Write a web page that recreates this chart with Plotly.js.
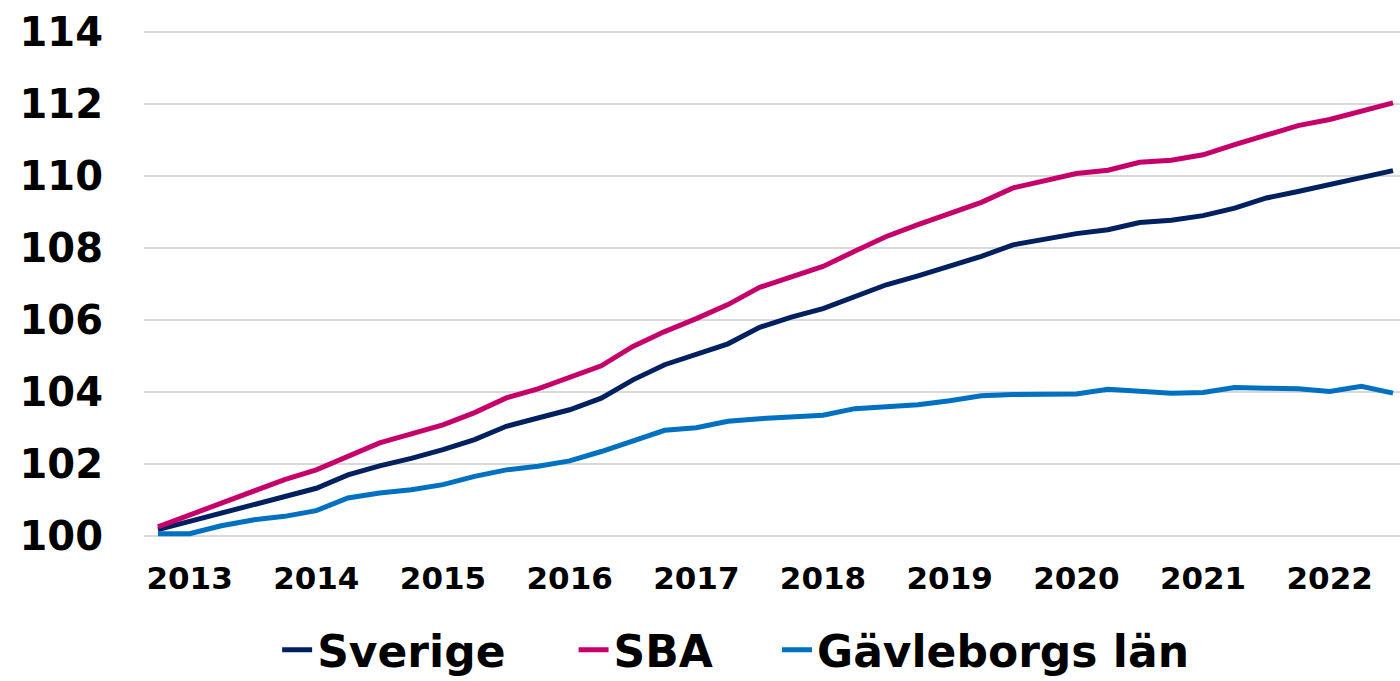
<!DOCTYPE html>
<html>
<head>
<meta charset="utf-8">
<script src="https://cdn.plot.ly/plotly-3.0.1.min.js"></script>
<style>
  html, body { margin: 0; padding: 0; background: #ffffff; }
  #chart { width: 1400px; height: 681px; }
</style>
</head>
<body>
<div id="chart"></div>
<script>
const quarters = [
  "2012K4",
  "2013K1","2013K2","2013K3","2013K4",
  "2014K1","2014K2","2014K3","2014K4",
  "2015K1","2015K2","2015K3","2015K4",
  "2016K1","2016K2","2016K3","2016K4",
  "2017K1","2017K2","2017K3","2017K4",
  "2018K1","2018K2","2018K3","2018K4",
  "2019K1","2019K2","2019K3","2019K4",
  "2020K1","2020K2","2020K3","2020K4",
  "2021K1","2021K2","2021K3","2021K4",
  "2022K1","2022K2","2022K3"
];

const tickQuarters = ["2013K1","2014K1","2015K1","2016K1","2017K1","2018K1","2019K1","2020K1","2021K1","2022K1"];
const tickYears = ["2013","2014","2015","2016","2017","2018","2019","2020","2021","2022"];

const sverige = [
  100.17, 100.40, 100.63, 100.86, 101.07, 101.32, 101.69, 101.94, 102.15, 102.39,
  102.67, 103.04, 103.27, 103.50, 103.82, 104.33, 104.75, 105.03, 105.33, 105.79,
  106.07, 106.31, 106.63, 106.97, 107.22, 107.50, 107.76, 108.08, 108.24, 108.39,
  108.50, 108.70, 108.76, 108.89, 109.10, 109.38, 109.56, 109.75, 109.96, 110.14
];

const sba = [
  100.25, 100.58, 100.92, 101.25, 101.56, 101.83, 102.22, 102.58, 102.83, 103.08,
  103.42, 103.83, 104.08, 104.40, 104.72, 105.26, 105.67, 106.03, 106.42, 106.90,
  107.19, 107.48, 107.90, 108.31, 108.64, 108.96, 109.26, 109.66, 109.87, 110.06,
  110.15, 110.37, 110.43, 110.58, 110.86, 111.14, 111.39, 111.56, 111.79, 112.02
];

const gavleborg = [
  100.06, 100.06, 100.28, 100.44, 100.54, 100.70, 101.05, 101.19, 101.28, 101.42,
  101.65, 101.83, 101.93, 102.08, 102.34, 102.62, 102.93, 103.00, 103.18, 103.25,
  103.29, 103.35, 103.53, 103.57, 103.64, 103.75, 103.89, 103.92, 103.94, 103.94,
  104.07, 104.01, 103.96, 103.98, 104.12, 104.10, 104.08, 104.01, 104.15, 103.96
];

const seriesNames = ["Sverige", "SBA", "Gävleborgs län"];
const seriesColors = ["#002060", "#c5006a", "#0070c0"];
const seriesData = [sverige, sba, gavleborg];
const legendIds = ["legend", "legend2", "legend3"];

const fontFamily = "DejaVu Sans, Liberation Sans, sans-serif";

const traces = seriesData.map((vals, i) => ({
  type: "scatter",
  mode: "lines",
  name: seriesNames[i],
  legend: legendIds[i],
  x: quarters,
  y: vals,
  line: { color: seriesColors[i], width: 5, shape: "linear" },
  hoverinfo: "x+y+name"
}));

function legendAt(xPos) {
  return {
    orientation: "h",
    x: xPos,
    xanchor: "left",
    y: -0.208,
    yanchor: "middle",
    font: { family: fontFamily, size: 44, color: "#000000", weight: "bold" },
    itemwidth: 30,
    bgcolor: "rgba(0,0,0,0)"
  };
}

const layout = {
  width: 1400,
  height: 681,
  paper_bgcolor: "#ffffff",
  plot_bgcolor: "#ffffff",
  margin: { l: 144, r: 0, t: 28.4, b: 137.8, autoexpand: false },
  showlegend: true,
  legend: legendAt(0.106),
  legend2: legendAt(0.342),
  legend3: legendAt(0.504),
  xaxis: {
    type: "category",
    categoryorder: "array",
    categoryarray: quarters,
    range: [-0.44, 39.22],
    tickmode: "array",
    tickvals: tickQuarters,
    ticktext: tickYears,
    showgrid: false,
    zeroline: false,
    showline: false,
    ticks: "",
    ticklabelstandoff: 14,
    tickfont: { family: fontFamily, size: 31, color: "#000000", weight: "bold" },
    fixedrange: true
  },
  yaxis: {
    range: [99.8, 114.1],
    tickmode: "array",
    tickvals: [100, 102, 104, 106, 108, 110, 112, 114],
    ticktext: ["100", "102", "104", "106", "108", "110", "112", "114"],
    showgrid: true,
    gridcolor: "#d9d9d9",
    gridwidth: 2,
    zeroline: false,
    showline: false,
    ticks: "",
    ticklabelstandoff: 40,
    tickfont: { family: fontFamily, size: 40, color: "#000000", weight: "bold" },
    fixedrange: true
  }
};

Plotly.newPlot("chart", traces, layout, { displayModeBar: false, staticPlot: true });
</script>
</body>
</html>
